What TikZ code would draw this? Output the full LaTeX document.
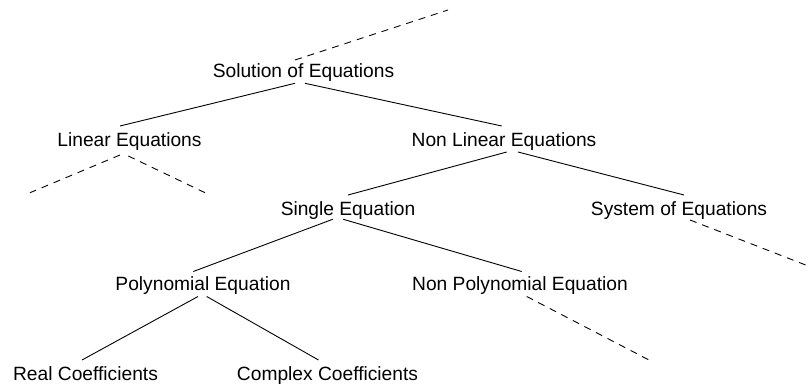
\documentclass[tikz,border=0pt]{standalone}
\usepackage{fontspec}
\setmainfont{Liberation Sans}
\tikzset{
  lbl/.style={anchor=base, inner sep=0pt, font=\fontsize{19.2}{23}\selectfont},
  edge/.style={line width=0.9pt},
  dedge/.style={line width=0.9pt, dash pattern=on 7pt off 6pt},
}
\begin{document}
\begin{tikzpicture}[x=1pt, y=-1pt]
\useasboundingbox (0,0) rectangle (810,387);
\node[lbl] (sol) at (303.5,78) {Solution of Equations};
\node[lbl] (lin) at (129.5,147) {Linear Equations};
\node[lbl] (nonlin) at (504,147) {Non Linear Equations};
\node[lbl] (single) at (348,215) {Single Equation};
\node[lbl] (system) at (679,215) {System of Equations};
\node[lbl] (poly) at (203,290.5) {Polynomial Equation};
\node[lbl] (nonpoly) at (520,290.5) {Non Polynomial Equation};
\node[lbl] (real) at (85.5,380) {Real Coefficients};
\node[lbl] (complex) at (327.5,380) {Complex Coefficients};
\coordinate (up) at (448,10);
\coordinate (linL) at (30,192.7);
\coordinate (linR) at (205,192.7);
\coordinate (sysR) at (810,266.7);
\coordinate (npR) at (649,360);
% solid connectors
\draw[edge] ([shift={(-8.5,5.3)}]sol.base) -- ([shift={(-9.5,-21)}]lin.base);
\draw[edge] ([shift={(1.5,5.3)}]sol.base) -- ([shift={(-2.3,-21)}]nonlin.base);
\draw[edge] ([shift={(2.7,5)}]nonlin.base) -- ([shift={(0,-20)}]single.base);
\draw[edge] ([shift={(14,5)}]nonlin.base) -- ([shift={(5,-20)}]system.base);
\draw[edge] ([shift={(-15.3,4.3)}]single.base) -- ([shift={(-9.7,-19)}]poly.base);
\draw[edge] ([shift={(-4.7,4.3)}]single.base) -- ([shift={(1.7,-19)}]nonpoly.base);
\draw[edge] ([shift={(-5,6)}]poly.base) -- ([shift={(-3.5,-20)}]real.base);
\draw[edge] ([shift={(3.7,6)}]poly.base) -- ([shift={(-9,-20)}]complex.base);
% dashed connectors
\draw[dedge] ([shift={(-8.5,-18)}]sol.base) -- (up);
\draw[dedge] ([shift={(-9.5,8)}]lin.base) -- (linL);
\draw[dedge] ([shift={(-1.2,9)}]lin.base) -- (linR);
\draw[dedge] ([shift={(11,5)}]system.base) -- (sysR);
\draw[dedge] ([shift={(6.7,6)}]nonpoly.base) -- (npR);
\end{tikzpicture}
\end{document}
